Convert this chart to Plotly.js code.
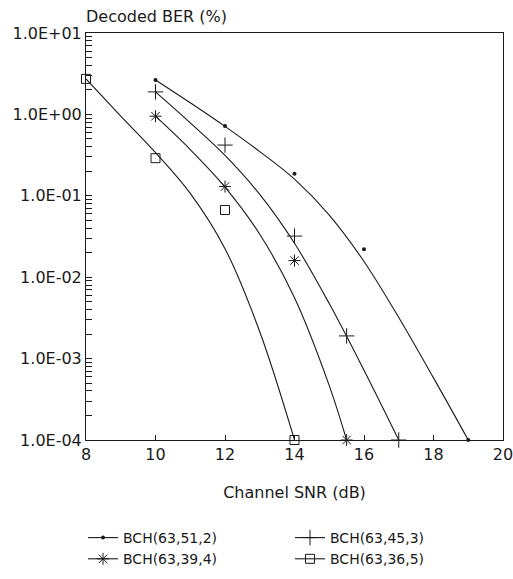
<!DOCTYPE html>
<html>
<head>
<meta charset="utf-8">
<script src="https://cdn.plot.ly/plotly-3.0.1.min.js"></script>
<style>html,body{margin:0;padding:0;background:#fff;}#chart{width:513px;height:579px;}</style>
</head>
<body>
<div id="chart"></div>
<script>
// Series names
const names = ["BCH(63,51,2)", "BCH(63,45,3)", "BCH(63,39,4)", "BCH(63,36,5)"];

// Measured points (SNR dB, decoded BER %)
const snrA = [10, 12, 14, 16, 19];
const berA = [2.65, 0.72, 0.186, 0.022, 0.0001];
const snrB = [10, 12, 14, 15.5, 17];
const berB = [1.89, 0.42, 0.032, 0.0019, 0.0001];
const snrC = [10, 12, 14, 15.5];
const berC = [0.95, 0.13, 0.016, 0.0001];
const snrD = [8, 10, 12, 14];
const berD = [2.73, 0.29, 0.067, 0.0001];

// Fitted curves
const fitAx = [10, 11, 12, 13, 14, 15, 16, 17, 18, 19];
const fitAy = [2.65, 1.39, 0.713, 0.349, 0.160, 0.058, 0.0156, 0.0032, 0.00058, 0.0001];
const fitBx = [10, 11, 12, 13, 14, 15, 16, 17];
const fitBy = [1.89, 0.787, 0.313, 0.104, 0.0261, 0.00474, 0.00072, 0.0001];
const fitCx = [10, 11, 12, 13, 14, 15, 15.5];
const fitCy = [0.95, 0.37, 0.128, 0.0337, 0.0056, 0.000466, 0.0001];
const fitDx = [8, 9, 10, 11, 12, 13, 14];
const fitDy = [2.73, 0.955, 0.339, 0.107, 0.0224, 0.00214, 0.0001];

// Axis ticks
const yTickVals = [0.0001, 0.001, 0.01, 0.1, 1, 10];
const yTickText = ["1.0E-04", "1.0E-03", "1.0E-02", "1.0E-01", "1.0E+00", "1.0E+01"];
const xTickVals = [8, 10, 12, 14, 16, 18, 20];

const FONT = "DejaVu Sans, Arial, sans-serif";
const INK = "#1a1a1a";

const markerStyles = [
  {symbol: "circle", size: 4, color: INK, line: {width: 0}},
  {symbol: "cross-thin-open", size: 11, color: INK, line: {width: 1, color: INK}},
  {symbol: "asterisk-open", size: 10, color: INK, line: {width: 1, color: INK}},
  {symbol: "square-open", size: 9, color: INK, line: {width: 1, color: INK}}
];

const pts = [[snrA, berA], [snrB, berB], [snrC, berC], [snrD, berD]];
const fits = [[fitAx, fitAy], [fitBx, fitBy], [fitCx, fitCy], [fitDx, fitDy]];

const traces = [];
fits.forEach((f, i) => {
  traces.push({
    x: f[0], y: f[1], mode: "lines", type: "scatter",
    line: {color: INK, width: 1.1, shape: "spline", smoothing: 1, simplify: false},
    showlegend: false, hoverinfo: "skip"
  });
});
pts.forEach((p, i) => {
  traces.push({
    x: p[0], y: p[1], mode: "markers", type: "scatter",
    marker: markerStyles[i], cliponaxis: false, showlegend: false
  });
});
names.forEach((n, i) => {
  traces.push({
    x: [null], y: [null], mode: "lines+markers", type: "scatter", name: n,
    line: {color: INK, width: 1.1}, marker: markerStyles[i], showlegend: true
  });
});

const layout = {
  width: 513, height: 579,
  paper_bgcolor: "#fff", plot_bgcolor: "#fff",
  margin: {l: 86, r: 10, t: 33, b: 139},
  font: {family: FONT, size: 15, color: INK},
  title: {
    text: "Decoded BER (%)", font: {family: FONT, size: 16, color: INK},
    xref: "container", yref: "container", x: 86 / 513, xanchor: "left",
    y: 1 - 16 / 579, yanchor: "middle"
  },
  xaxis: {
    range: [8, 20], tickmode: "array", tickvals: xTickVals,
    ticks: "inside", ticklen: 5, tickcolor: INK, tickwidth: 1,
    showline: true, linecolor: INK, linewidth: 1, mirror: true,
    showgrid: false, zeroline: false, automargin: false,
    ticklabeloverflow: "allow",
    tickfont: {family: FONT, size: 16, color: INK},
    title: {text: "Channel SNR (dB)", font: {family: FONT, size: 16, color: INK}, standoff: 23}
  },
  yaxis: {
    type: "log", range: [-4, 1], tickmode: "array",
    tickvals: yTickVals, ticktext: yTickText,
    ticks: "inside", ticklen: 6, tickcolor: INK, tickwidth: 1,
    minor: {ticks: "inside", ticklen: 6, tickcolor: INK, tickwidth: 1, dtick: "D1", showgrid: false},
    showline: true, linecolor: INK, linewidth: 1, mirror: true,
    showgrid: false, zeroline: false, automargin: false,
    tickfont: {family: FONT, size: 16, color: INK}
  },
  showlegend: true,
  legend: {
    orientation: "h", xref: "container", yref: "container",
    x: 83 / 513, xanchor: "left", y: 1 - 522 / 579, yanchor: "top",
    entrywidth: 162, entrywidthmode: "pixels", tracegroupgap: 0,
    font: {family: FONT, size: 14, color: INK}, bgcolor: "rgba(0,0,0,0)",
    traceorder: "normal"
  }
};

Plotly.newPlot("chart", traces, layout, {displayModeBar: false, staticPlot: true});
</script>
</body>
</html>
